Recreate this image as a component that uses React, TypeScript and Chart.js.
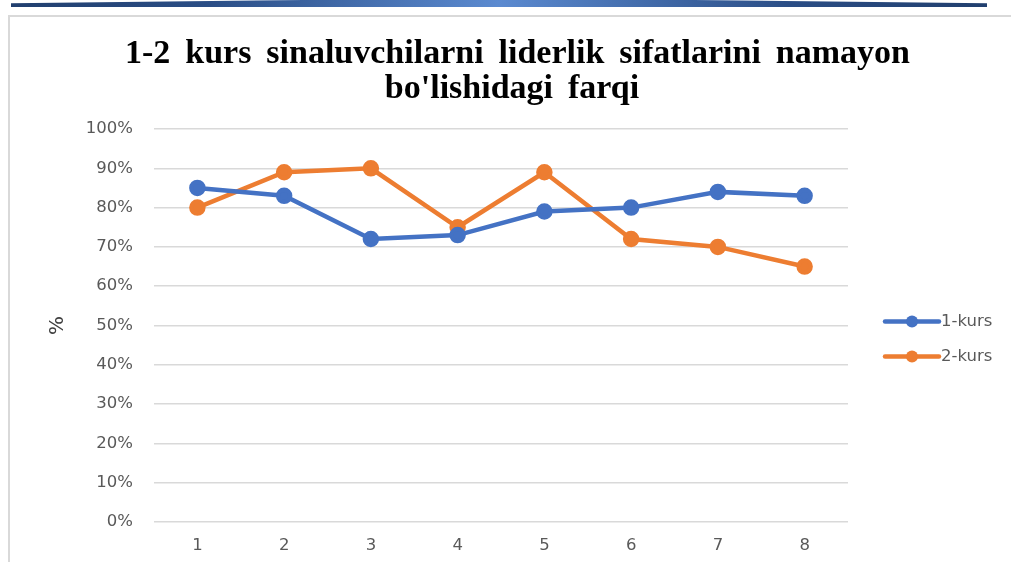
import React, { useEffect, useRef } from "react";
import { Chart, registerables } from "chart.js";

Chart.register(...registerables);

const categories = ["1", "2", "3", "4", "5", "6", "7", "8"];
const kurs1 = [85, 83, 72, 73, 79, 80, 84, 83];
const kurs2 = [80, 89, 90, 75, 89, 72, 70, 65];
const seriesNames = ["1-kurs", "2-kurs"];
const seriesColors = ["#4472C4", "#ED7D31"];
const titleLines = ["1-2 kurs sinaluvchilarni liderlik sifatlarini namayon", "bo'lishidagi farqi"];
const yTicks = { min: 0, max: 100, step: 10 };

const tickFont = { family: "'DejaVu Sans', sans-serif", size: 16.5 };

const titlePlugin = {
  id: "customTitle",
  afterDraw(chart: any) {
    const ctx = chart.ctx;
    ctx.save();
    ctx.fillStyle = "#000";
    ctx.font = "bold 34px 'Liberation Serif', 'Times New Roman', serif";
    ctx.textBaseline = "alphabetic";
    ctx.textAlign = "left";
    // line 1: justified between left and right edges
    const left = 125;
    const right = 910;
    const words = titleLines[0].split(" ");
    const widths = words.map((w: string) => ctx.measureText(w).width);
    const total = widths.reduce((a: number, b: number) => a + b, 0);
    const gap = Math.max(8, (right - left - total) / (words.length - 1));
    const sx = Math.min(1, (right - left - gap * (words.length - 1)) / total);
    let x = left;
    words.forEach((w: string, i: number) => {
      ctx.save();
      ctx.translate(x, 63);
      ctx.scale(sx, 1);
      ctx.fillText(w, 0, 0);
      ctx.restore();
      x += widths[i] * sx + gap;
    });
    // line 2: centered, with the same word gap
    const words2 = titleLines[1].split(" ");
    const widths2 = words2.map((w: string) => ctx.measureText(w).width * sx);
    const total2 = widths2.reduce((a: number, b: number) => a + b, 0) + gap * (words2.length - 1);
    let x2 = 512 - total2 / 2;
    words2.forEach((w: string, i: number) => {
      ctx.save();
      ctx.translate(x2, 98);
      ctx.scale(sx, 1);
      ctx.fillText(w, 0, 0);
      ctx.restore();
      x2 += widths2[i] + gap;
    });
    ctx.restore();
  },
};

const legendPlugin = {
  id: "customLegend",
  afterDraw(chart: any) {
    const ctx = chart.ctx;
    const area = chart.chartArea;
    const cy = (area.top + area.bottom) / 2;
    ctx.save();
    chart.data.datasets.forEach((ds: any, i: number) => {
      const y = cy - 4 + i * 35;
      const x0 = area.right + 37;
      const x1 = x0 + 54;
      ctx.strokeStyle = ds.borderColor;
      ctx.lineWidth = 4.5;
      ctx.lineCap = "round";
      ctx.beginPath();
      ctx.moveTo(x0, y);
      ctx.lineTo(x1, y);
      ctx.stroke();
      ctx.fillStyle = ds.borderColor;
      ctx.beginPath();
      ctx.arc((x0 + x1) / 2, y, 6, 0, Math.PI * 2);
      ctx.fill();
      ctx.fillStyle = "#595959";
      ctx.font = `${tickFont.size}px ${tickFont.family}`;
      ctx.textAlign = "left";
      ctx.textBaseline = "middle";
      ctx.fillText(ds.label, x1 + 2, y);
    });
    ctx.restore();
  },
};

export default function App() {
  const ref = useRef<HTMLCanvasElement>(null);
  useEffect(() => {
    if (!ref.current) return;
    const chart = new Chart(ref.current, {
      type: "line",
      data: {
        labels: categories,
        datasets: [kurs1, kurs2].map((d, i) => ({
          label: seriesNames[i],
          data: d,
          borderColor: seriesColors[i],
          backgroundColor: seriesColors[i],
          borderWidth: 4.5,
          pointRadius: 6,
          pointHoverRadius: 6,
          pointBackgroundColor: seriesColors[i],
          pointBorderColor: seriesColors[i],
          tension: 0,
        })),
      },
      options: {
        animation: false,
        responsive: false,
        maintainAspectRatio: false,
        layout: { padding: { left: 44, right: 163, top: 129, bottom: 0 } },
        plugins: {
          legend: { display: false },
          title: { display: false },
          tooltip: { enabled: false },
        },
        scales: {
          x: {
            offset: true,
            grid: { display: false, drawTicks: false },
            border: { display: false },
            ticks: { color: "#595959", font: tickFont, padding: 14 },
            afterFit: (s: any) => {
              s.height = 40;
            },
          },
          y: {
            min: yTicks.min,
            max: yTicks.max,
            ticks: {
              stepSize: yTicks.step,
              color: "#595959",
              font: tickFont,
              padding: 21,
              callback: (v: any) => `${v}%`,
            },
            grid: { color: "#d9d9d9", lineWidth: 1.5, drawTicks: false },
            border: { display: false },
            title: {
              display: true,
              text: "%",
              color: "#404040",
              font: { family: "'DejaVu Sans', sans-serif", size: 20 },
              padding: { top: 2, bottom: 0 },
            },
            afterFit: (s: any) => {
              s.width = 110;
            },
          },
        },
      },
      plugins: [titlePlugin, legendPlugin],
    });
    return () => chart.destroy();
  }, []);

  return (
    <div style={{ position: "fixed", left: 0, top: 0, width: 1011, height: 562, background: "#fff", overflow: "hidden" }}>
      <div
        style={{
          position: "absolute",
          left: 11,
          top: 0,
          width: 976,
          height: 7,
          background: "linear-gradient(90deg, #213f6e 0%, #2a4d85 20%, #5b8ad0 50%, #2a4d85 80%, #213f6e 100%)",
          clipPath: "polygon(0 45%, 30% 0, 70% 0, 100% 45%, 100% 100%, 0 100%)",
        }}
      />
      <div style={{ position: "absolute", left: 8, top: 15, width: 1003, height: 2, background: "#d9d9d9" }} />
      <div style={{ position: "absolute", left: 8, top: 15, width: 2, height: 547, background: "#d9d9d9" }} />
      <canvas ref={ref} width={1011} height={562} style={{ position: "absolute", left: 0, top: 0 }} />
    </div>
  );
}
